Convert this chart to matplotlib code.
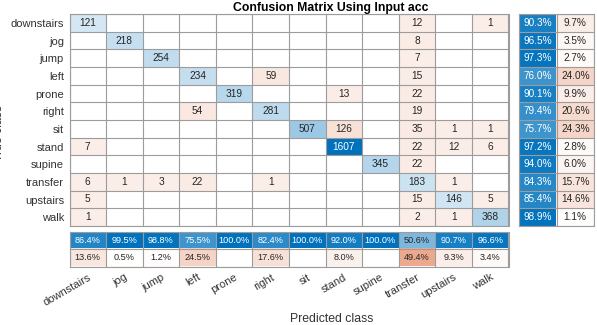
import numpy as np
import matplotlib
matplotlib.use('Agg')
from matplotlib import pyplot as plt

plt.rcParams['font.family'] = ['Liberation Sans', 'DejaVu Sans']

classes = ['downstairs', 'jog', 'jump', 'left', 'prone', 'right',
           'sit', 'stand', 'supine', 'transfer', 'upstairs', 'walk']

# rows = true class, cols = predicted class
counts = np.array([
    [121,   0,   0,   0,   0,   0,   0,    0,   0,  12,   0,   1],
    [  0, 218,   0,   0,   0,   0,   0,    0,   0,   8,   0,   0],
    [  0,   0, 254,   0,   0,   0,   0,    0,   0,   7,   0,   0],
    [  0,   0,   0, 234,   0,  59,   0,    0,   0,  15,   0,   0],
    [  0,   0,   0,   0, 319,   0,   0,   13,   0,  22,   0,   0],
    [  0,   0,   0,  54,   0, 281,   0,    0,   0,  19,   0,   0],
    [  0,   0,   0,   0,   0,   0, 507,  126,   0,  35,   1,   1],
    [  7,   0,   0,   0,   0,   0,   0, 1607,   0,  22,  12,   6],
    [  0,   0,   0,   0,   0,   0,   0,    0, 345,  22,   0,   0],
    [  6,   1,   3,  22,   0,   1,   0,    0,   0, 183,   1,   0],
    [  5,   0,   0,   0,   0,   0,   0,    0,   0,  15, 146,   5],
    [  1,   0,   0,   0,   0,   0,   0,    0,   0,   2,   1, 368],
])

title = 'Confusion Matrix Using Input acc'

# figure geometry (pixels)
W, H = 597, 325
blue = np.array([0, 114, 189]) / 255
red = np.array([217, 83, 25]) / 255
grid_color = '#9c9c9c'
text_color = '#262626'
label_color = '#333333'
cell_fs = 7.3
row_pct_fs = 7.2
col_pct_fs = 6.6
tick_fs = 8
label_fs = 8.8


def tint(color, a):
    return 1 - a * (1 - color)


def px_axes(fig, x0, y0, x1, y1):
    return fig.add_axes([x0 / W, 1 - y1 / H, (x1 - x0) / W, (y1 - y0) / H])


def style_grid(ax, nrows, ncols):
    ax.set_xticks(np.arange(-0.5, ncols, 1), minor=True)
    ax.set_yticks(np.arange(-0.5, nrows, 1), minor=True)
    ax.grid(which='minor', color=grid_color, linewidth=0.8)
    ax.tick_params(which='both', length=0)
    for s in ax.spines.values():
        s.set_color(grid_color)
        s.set_linewidth(0.8)


n = len(classes)
vmax = counts.max()
tpr = np.diag(counts) / counts.sum(axis=1) * 100
ppv = np.diag(counts) / counts.sum(axis=0) * 100

fig = plt.figure(figsize=(W / 100, H / 100), dpi=100)
ax = px_axes(fig, 69.5, 14, 508.5, 226)
ax_row = px_axes(fig, 519, 14, 594, 226)
ax_col = px_axes(fig, 69.5, 231.5, 508.5, 266.5)

# main matrix
img = np.ones((n, n, 3))
for i in range(n):
    for j in range(n):
        v = counts[i, j]
        if v == 0:
            continue
        a = 0.1 + 0.9 * v / vmax
        img[i, j] = tint(blue if i == j else red, a)
        tc = 'white' if a > 0.6 else text_color
        ax.text(j, i, str(v), ha='center', va='center', fontsize=cell_fs, color=tc)
ax.imshow(img, aspect='auto', interpolation='nearest')
style_grid(ax, n, n)
ax.set_xticks([])
ax.set_yticks(range(n))
ax.set_yticklabels(classes, fontsize=tick_fs, color=label_color)
ax.tick_params(axis='y', pad=4)

# row summary
rimg = np.ones((n, 2, 3))
for i in range(n):
    for k, (val, col) in enumerate([(tpr[i], blue), (100 - tpr[i], red)]):
        if round(val, 1) == 0:
            continue
        a = val / 100
        rimg[i, k] = tint(col, a)
        tc = 'white' if (col is blue and a > 0.6) else text_color
        ax_row.text(k, i, f'{val:.1f}%', ha='center', va='center', fontsize=row_pct_fs, color=tc)
ax_row.imshow(rimg, aspect='auto', interpolation='nearest')
style_grid(ax_row, n, 2)
ax_row.set_xticks([])
ax_row.set_yticks([])

# column summary
cimg = np.ones((2, n, 3))
for j in range(n):
    for k, (val, col) in enumerate([(ppv[j], blue), (100 - ppv[j], red)]):
        if round(val, 1) == 0:
            continue
        a = val / 100
        cimg[k, j] = tint(col, a)
        tc = 'white' if (col is blue and a > 0.6) else text_color
        ax_col.text(j, k, f'{val:.1f}%', ha='center', va='center', fontsize=col_pct_fs, color=tc)
ax_col.imshow(cimg, aspect='auto', interpolation='nearest')
style_grid(ax_col, 2, n)
ax_col.set_yticks([])
ax_col.set_xticks(range(n))
ax_col.set_xticklabels(classes, fontsize=tick_fs, color=label_color,
                       rotation=30, ha='right', rotation_mode='anchor')
ax_col.tick_params(axis='x', pad=4)

fig.text(331 / W, 1 - 11 / H, title, ha='center', va='baseline',
         fontsize=label_fs, fontweight='bold', color='black')
fig.text(332 / W, 1 - 322 / H, 'Predicted class', ha='center', va='baseline',
         fontsize=label_fs, color=label_color)
fig.text(5 / W, 1 - 133 / H, 'True class', ha='right', va='center', rotation=90,
         fontsize=label_fs, color=label_color)

fig.savefig('out.png', dpi=100)
